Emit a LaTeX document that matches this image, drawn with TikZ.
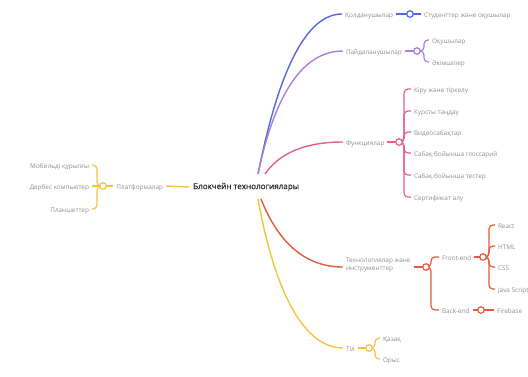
\documentclass[tikz,border=0pt]{standalone}
\usepackage{fontspec}
\setmainfont{Open Sans}
\newfontfamily\titlefont{Open Sans}[FakeBold=0.6]
\definecolor{cblue}{HTML}{5069DC}
\definecolor{cpurple}{HTML}{A97FDB}
\definecolor{cpink}{HTML}{E0608E}
\definecolor{cred}{HTML}{E35A3C}
\definecolor{cyellow}{HTML}{F2C53D}
\definecolor{ctext}{HTML}{8E8E8E}
\definecolor{cmain}{HTML}{2A2A2A}
\tikzset{
  lbl/.style={anchor=west, inner sep=0pt, outer xsep=3pt, xshift=-3pt,
    text height=1.5ex, text depth=0.3ex, text=ctext,
    font=\fontsize{6.4}{7.8}\selectfont},
  lblL/.style={lbl, anchor=east, xshift=6pt},
  hub/.style={circle, draw, fill=white, line width=1.2pt, minimum size=6.5pt, inner sep=0pt},
  trunk/.style={line width=1.4pt},
  twig/.style={line width=1.2pt, rounded corners=4pt},
}
\begin{document}
\begin{tikzpicture}[x=1pt, y=-1pt]
\useasboundingbox (0,0) rectangle (528,376);

% central topic
\node[anchor=west, inner sep=0pt, text=cmain, font=\titlefont\fontsize{8.1}{10}\selectfont]
  (main) at (193,187) {Блокчейн технологиялары};
\coordinate (hubN) at (258,174);
\coordinate (hubNE) at (265,174);
\coordinate (hubS) at (258,199);
\coordinate (hubSE) at (261,199);

% --- users (blue)
\node[lbl] (q1) at (345,14) {Қолданушылар};
\node[lbl] (q2) at (424,14) {Студенттер және оқушылар};
\draw[cblue, trunk] (hubN) .. controls (279.3,67.3) and (307.3,14) .. (q1.west);
\coordinate (cq) at (410,14);
\draw[cblue, twig] (q1.east) -- (cq) -- (q2.west);
\node[draw=cblue, hub] at (cq) {};

% --- roles (purple)
\node[lbl] (p1) at (346,51) {Пайдаланушылар};
\node[lbl] (p2) at (432,40) {Оқушылар};
\node[lbl] (p3) at (432,62) {Әкімшілер};
\draw[cpurple, trunk] (hubN) .. controls (275.3,92) and (303.7,51) .. (p1.west);
\coordinate (cp) at (417,51);
\draw[cpurple, twig] (p1.east) -- (cp);
\draw[cpurple, twig] (cp) -| (424,40) -- (p2.west);
\draw[cpurple, twig] (cp) -| (424,62) -- (p3.west);
\node[draw=cpurple, hub] at (cp) {};

% --- features (pink)
\node[lbl] (f0) at (346,142) {Функциялар};
\node[lbl] (f1) at (414,89)  {Кіру және тіркелу};
\node[lbl] (f2) at (414,111) {Курсты таңдау};
\node[lbl] (f3) at (414,132) {Видеосабақтар};
\node[lbl] (f4) at (414,153) {Сабақ бойынша глоссарий};
\node[lbl] (f5) at (414,175) {Сабақ бойынша тестер};
\node[lbl] (f6) at (414,197) {Сертификат алу};
\draw[cpink, trunk] (hubNE) .. controls (279.7,152.7) and (305.7,142) .. (f0.west);
\coordinate (cf) at (399,142);
\draw[cpink, twig] (f0.east) -- (cf);
\foreach \k/\y in {f1/89, f2/111, f3/132, f4/153, f5/175, f6/197}
  \draw[cpink, twig] (cf) -| (404,\y) -- (\k.west);
\node[draw=cpink, hub] at (cf) {};

% --- technologies and tools (red)
\node[lbl, align=left] (t0) at (346,267) {Технологиялар және\\инструменттер};
\node[lbl] (t1) at (442,257) {Front-end};
\node[lbl] (t2) at (442,310) {Back-end};
\draw[cred, trunk] (hubSE) .. controls (279,244.3) and (306.3,267) .. (t0.west);
\coordinate (ct) at (426,267);
\draw[cred, twig] (t0.east) -- (ct);
\draw[cred, twig] (ct) -| (431,257) -- (t1.west);
\draw[cred, twig] (ct) -| (431,310) -- (t2.west);
\node[draw=cred, hub] at (ct) {};

\node[lbl] (r1) at (498,225) {React};
\node[lbl] (r2) at (498,246) {HTML};
\node[lbl] (r3) at (498,267) {CSS};
\node[lbl] (r4) at (498,289) {Java Script};
\coordinate (cfe) at (483,257);
\draw[cred, twig] (t1.east) -- (cfe);
\foreach \k/\y in {r1/225, r2/246, r3/267, r4/289}
  \draw[cred, twig] (cfe) -| (489,\y) -- (\k.west);
\node[draw=cred, hub] at (cfe) {};

\node[lbl] (b1) at (497,310) {Firebase};
\coordinate (cbe) at (481,310);
\draw[cred, twig] (t2.east) -- (cbe) -- (b1.west);
\node[draw=cred, hub] at (cbe) {};

% --- language (yellow)
\node[lbl] (l0) at (346,348) {Тіл};
\node[lbl] (l1) at (383,338) {Қазақ};
\node[lbl] (l2) at (383,359) {Орыс};
\draw[cyellow, trunk] (hubS) .. controls (276,298.3) and (306.3,348) .. (l0.west);
\coordinate (cl) at (369,348);
\draw[cyellow, twig] (l0.east) -- (cl);
\draw[cyellow, twig] (cl) -| (375,338) -- (l1.west);
\draw[cyellow, twig] (cl) -| (375,359) -- (l2.west);
\node[draw=cyellow, hub] at (cl) {};

% --- platforms (yellow, left side)
\node[lblL] (g0) at (163,186) {Платформалар};
\node[lblL] (g1) at (89,165) {Мобильді құрылғы};
\node[lblL] (g2) at (89,186) {Дербес компьютер};
\node[lblL] (g3) at (89,209) {Планшеттер};
\draw[cyellow, trunk] (main.west) ++(-4,0) coordinate (mw) (mw) -- (g0.east);
\coordinate (cg) at (103,186);
\draw[cyellow, twig] (g0.west) -- (cg) -- (g2.east);
\draw[cyellow, twig] (cg) -| (97,165) -- (g1.east);
\draw[cyellow, twig] (cg) -| (97,209) -- (g3.east);
\node[draw=cyellow, hub] at (cg) {};
\end{tikzpicture}
\end{document}
